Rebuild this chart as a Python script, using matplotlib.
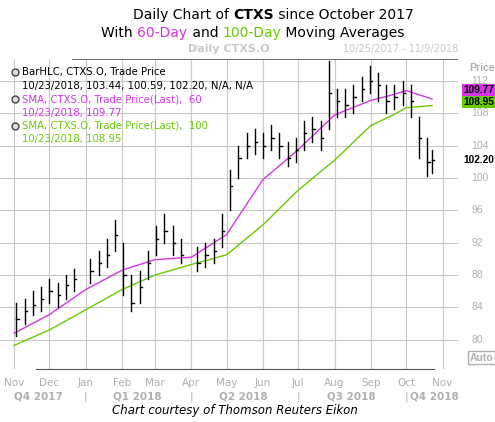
import matplotlib
matplotlib.use("Agg")
import matplotlib.pyplot as plt
import matplotlib.dates as mdates
import datetime as dt

week_dates = ["2017-11-03","2017-11-10","2017-11-17","2017-11-24","2017-12-01","2017-12-08","2017-12-15","2017-12-22",
 "2018-01-05","2018-01-12","2018-01-19","2018-01-26","2018-02-02","2018-02-09","2018-02-16","2018-02-23",
 "2018-03-02","2018-03-09","2018-03-16","2018-03-23","2018-04-06","2018-04-13","2018-04-20","2018-04-27",
 "2018-05-04","2018-05-11","2018-05-18","2018-05-25","2018-06-01","2018-06-08","2018-06-15","2018-06-22","2018-06-29",
 "2018-07-06","2018-07-13","2018-07-20","2018-07-27","2018-08-03","2018-08-10","2018-08-17","2018-08-24","2018-08-31",
 "2018-09-07","2018-09-14","2018-09-21","2018-09-28","2018-10-05","2018-10-12","2018-10-19","2018-10-23"]
closes = [82.5,83.5,84.3,85.0,86.0,85.5,86.8,87.5,88.5,89.5,90.5,93.0,88.0,84.5,86.5,89.5,92.5,93.5,92.0,90.5,
 89.5,90.5,91.0,93.5,99.0,102.5,104.0,104.5,104.0,105.0,104.0,102.5,103.5,105.5,106.0,105.0,110.5,109.5,109.0,110.0,
 111.0,112.0,111.5,109.5,110.0,110.5,109.5,105.0,102.0,102.2]
highs = [84.5,85.0,86.0,86.5,87.5,87.0,88.0,88.8,90.0,91.0,92.5,94.8,92.0,88.0,88.5,91.0,94.0,95.5,94.0,92.5,
 91.5,92.0,92.5,95.5,101.0,104.0,105.5,106.0,105.5,106.5,105.5,104.5,105.0,107.0,107.5,107.0,114.5,111.0,111.0,111.5,
 112.5,113.8,113.0,111.5,111.5,112.0,111.5,107.5,105.0,103.4]
lows = [80.5,82.0,83.0,83.5,84.5,84.0,85.0,86.0,87.0,88.0,89.0,91.0,85.5,83.5,84.5,87.5,90.5,92.0,90.5,89.5,
 88.5,89.0,89.5,91.5,96.0,100.0,102.5,103.0,102.5,103.5,102.5,101.5,102.0,103.5,104.5,103.5,106.0,107.5,107.5,108.0,
 109.5,110.5,109.5,108.0,108.5,109.0,107.5,102.5,100.3,100.6]
sma_dates = ["2017-11-01","2017-12-01","2018-01-01","2018-02-01","2018-03-01","2018-04-01","2018-05-01",
 "2018-06-01","2018-07-01","2018-08-01","2018-09-01","2018-09-20","2018-10-01","2018-10-23"]
sma60 = [80.8,83.1,86.2,88.6,89.9,90.2,93.0,99.8,103.5,107.8,109.6,110.3,110.8,109.77]
sma100 = [79.3,81.2,83.7,86.2,88.0,89.3,90.5,94.2,98.5,102.2,106.5,107.8,108.7,108.95]
price_ticks = [80,84,88,92,96,100,104,108,112]

P = lambda s: dt.datetime.strptime(s, "%Y-%m-%d")
wd = [P(s) for s in week_dates]
sd = [P(s) for s in sma_dates]

fig = plt.figure(figsize=(4.95,4.22), dpi=100)
ax = fig.add_axes([0.0, 0.126, 0.925, 0.734])
ax.set_xlim(P("2017-10-20"), P("2018-11-14"))
ax.set_ylim(76.4, 114.7)
for s in ["top","left","right"]:
    ax.spines[s].set_visible(False)
ax.spines["bottom"].set_color("#555")
ax.axhline(114.7, color="#555", lw=1.2, xmin=0.16, xmax=1.0)
ax.spines["bottom"].set_bounds(mdates.date2num(P("2017-11-20")), mdates.date2num(P("2018-10-25")))
grey = "#c8c8c8"
for t in price_ticks:
    ax.axhline(t, color=grey, lw=0.8, zorder=0)
months = [dt.datetime(2017,11,1)] + [dt.datetime(2017,12,1)] + [dt.datetime(2018,m,1) for m in range(1,12)]
for m in months:
    ax.axvline(m, color=grey, lw=0.8, zorder=0)

ax.plot(sd, sma60, color="#d633e8", lw=1)
ax.plot(sd, sma100, color="#66cc00", lw=1)
for d, h, l, c in zip(wd, highs, lows, closes):
    ax.plot([d, d], [l, h], color="black", lw=1)
    ax.plot([d, d + dt.timedelta(days=2)], [c, c], color="black", lw=1)

ax.set_xticks([])
ax.set_yticks([])
lab = "#b0b0b0"
NF = "Liberation Sans"
for m, n in zip(months, ["Nov","Dec","Jan","Feb","Mar","Apr","May","Jun","Jul","Aug","Sep","Oct","Nov"]):
    ax.text(m, -0.03, n, transform=ax.get_xaxis_transform(), ha="center", va="top", color=lab, fontsize=7.5)
for d, n in [("2017-11-22","Q4 2017"),("2018-02-14","Q1 2018"),("2018-05-15","Q2 2018"),("2018-08-15","Q3 2018"),("2018-10-25","Q4 2018")]:
    ax.text(P(d), -0.072, n, transform=ax.get_xaxis_transform(), ha="center", va="top", color=lab, fontsize=7.5, fontweight="bold")
for d in ["2018-01-01","2018-04-01","2018-07-01","2018-10-01"]:
    ax.text(P(d), -0.072, "|", transform=ax.get_xaxis_transform(), ha="center", va="top", color=lab, fontsize=7.5)
for t in price_ticks:
    ax.text(1.03, t, str(t), transform=ax.get_yaxis_transform(), ha="left", va="center", color=lab, fontsize=7.5, family=NF)
ax.text(1.025, 113.6, "Price", transform=ax.get_yaxis_transform(), ha="left", va="center", color=lab, fontsize=7.5, fontweight="bold", family=NF)
ax.text(1.025, 77.8, "Auto", transform=ax.get_yaxis_transform(), ha="left", va="center", color=lab, fontsize=7.5, fontweight="bold", family=NF,
        bbox=dict(boxstyle="square,pad=0.15", fc="white", ec=lab, lw=1))
ax.text(0.5, 1.015, "Daily CTXS.O", transform=ax.transAxes, ha="center", va="bottom", color="#c8c8c8", fontsize=8, fontweight="bold")
ax.text(1.0, 1.015, "10/25/2017 - 11/9/2018", transform=ax.transAxes, ha="right", va="bottom", color="#c8c8c8", fontsize=7)
for v, pos, fc in [(109.77, 110.9, "#d633e8"), (108.95, 109.4, "#66cc00"), (102.20, 102.2, "white")]:
    ax.text(1.012, pos, f"{v:.2f}", transform=ax.get_yaxis_transform(), ha="left", va="center", color="black", fontsize=7.3,
            fontweight="bold", family=NF, bbox=dict(boxstyle="square,pad=0.12", fc=fc, ec="none"))

leg = [("BarHLC, CTXS.O, Trade Price", "black"), ("10/23/2018, 103.44, 100.59, 102.20, N/A, N/A", "black"),
       ("SMA, CTXS.O, Trade Price(Last),  60", "#d633e8"), ("10/23/2018, 109.77", "#d633e8"),
       ("SMA, CTXS.O, Trade Price(Last),  100", "#66cc00"), ("10/23/2018, 108.95", "#66cc00")]
y0 = 0.958
for i, (s, c) in enumerate(leg):
    ax.text(0.048, y0 - i*0.0435, s, transform=ax.transAxes, ha="left", va="center", color=c, fontsize=7.3)
for i in [0, 2, 4]:
    ax.plot(0.032, y0 - i*0.0435, "o", transform=ax.transAxes, ms=5, mfc="#ddd", mec="#444", clip_on=False)

t1 = fig.text(0.268, 0.955, "Daily Chart of ", fontsize=10, va="baseline")
t2 = plt.annotate("CTXS", xycoords=t1, xy=(1, 0), fontsize=10, fontweight="bold", va="bottom")
plt.annotate(" since October 2017", xycoords=t2, xy=(1, 0), fontsize=10, va="bottom")
s1 = fig.text(0.205, 0.912, "With ", fontsize=10, va="baseline")
s2 = plt.annotate("60-Day", xycoords=s1, xy=(1, 0), fontsize=10, color="#d633e8", va="bottom")
s3 = plt.annotate(" and ", xycoords=s2, xy=(1, 0), fontsize=10, va="bottom")
s4 = plt.annotate("100-Day", xycoords=s3, xy=(1, 0), fontsize=10, color="#66cc00", va="bottom")
plt.annotate(" Moving Averages", xycoords=s4, xy=(1, 0), fontsize=10, va="bottom")
fig.text(0.475, 0.028, "Chart courtesy of Thomson Reuters Eikon", ha="center", va="center", fontsize=8.5, style="italic")
fig.savefig("out.png", dpi=100)
